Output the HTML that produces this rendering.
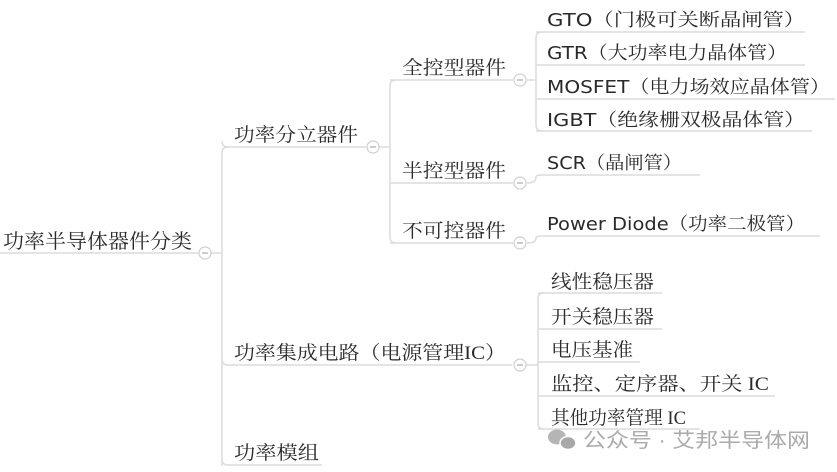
<!DOCTYPE html>
<html><head><meta charset="utf-8"><style>
html,body{margin:0;padding:0;background:#fff;}
svg{display:block}
text{font-family:"Liberation Serif","Noto Serif CJK SC",serif;font-size:19px;fill:#2a2a2a;}
.l{font-family:"DejaVu Sans","Noto Serif CJK SC",sans-serif;font-size:18px;}
</style></head><body>
<svg width="837" height="472" viewBox="0 0 837 472">
<g fill="none" stroke="#dcdcdc" stroke-width="1.5">
<line x1="0" y1="253" x2="199" y2="253"/>
<line x1="211" y1="253" x2="222" y2="253"/>
<path d="M228 147 Q222 147 222 153 L222 466"/>
<path d="M222 141 Q222 147 228 147 L366 147"/>
<path d="M222 359 Q222 365 228 365 L512 365"/>
<path d="M222 459 Q222 465 228 465 L322 465"/>
<line x1="379" y1="147" x2="390" y2="147"/>
<path d="M396 80 Q390 80 390 86 L390 237 Q390 243 396 243"/>
<line x1="390" y1="80" x2="513" y2="80"/>
<line x1="390" y1="183" x2="513" y2="183"/>
<line x1="390" y1="243" x2="513" y2="243"/>
<line x1="527" y1="80" x2="536" y2="80"/>
<path d="M542 32 Q536 32 536 38 L536 125 Q536 131 542 131"/>
<line x1="536" y1="32" x2="805" y2="32"/>
<line x1="536" y1="65" x2="805" y2="65"/>
<line x1="536" y1="99" x2="835" y2="99"/>
<line x1="536" y1="131" x2="812" y2="131"/>
<path d="M527 183 Q536 183 536 177 Q536 175 542 175 L700 175"/>
<path d="M527 243 Q536 243 536 238 Q536 236 542 236 L820 236"/>
<line x1="526" y1="365" x2="538" y2="365"/>
<path d="M544 293 Q538 293 538 299 L538 423 Q538 429 544 429"/>
<line x1="538" y1="293" x2="662" y2="293"/>
<line x1="538" y1="329" x2="662" y2="329"/>
<line x1="538" y1="362" x2="640" y2="362"/>
<line x1="538" y1="396" x2="775" y2="396"/>
<line x1="538" y1="429" x2="700" y2="429"/>
</g>
<g fill="#fff" stroke="#cfcfcf" stroke-width="1.2">
<circle cx="205" cy="253" r="6"/>
<circle cx="373" cy="147" r="6"/>
<circle cx="520" cy="80" r="6"/>
<circle cx="520" cy="183" r="6"/>
<circle cx="520" cy="243" r="6"/>
<circle cx="520" cy="365" r="6"/>
</g>
<g stroke="#999" stroke-width="1">
<line x1="202" y1="253" x2="208" y2="253"/><line x1="370" y1="147" x2="376" y2="147"/>
<line x1="517" y1="80" x2="523" y2="80"/><line x1="517" y1="183" x2="523" y2="183"/>
<line x1="517" y1="243" x2="523" y2="243"/><line x1="517" y1="365" x2="523" y2="365"/>
</g>
<text x="3" y="248" textLength="189" lengthAdjust="spacingAndGlyphs" style="font-size:20px">功率半导体器件分类</text>
<text x="234" y="141" textLength="124" lengthAdjust="spacingAndGlyphs">功率分立器件</text>
<text x="234" y="359" textLength="272" lengthAdjust="spacingAndGlyphs">功率集成电路（电源管理IC）</text>
<text x="234" y="459" textLength="85" lengthAdjust="spacingAndGlyphs">功率模组</text>
<text x="402" y="74" textLength="104" lengthAdjust="spacingAndGlyphs">全控型器件</text>
<text x="402" y="177" textLength="104" lengthAdjust="spacingAndGlyphs">半控型器件</text>
<text x="402" y="237" textLength="104" lengthAdjust="spacingAndGlyphs">不可控器件</text>
<text class="l" x="547" y="26" textLength="258" lengthAdjust="spacingAndGlyphs">GTO（门极可关断晶闸管）</text>
<text class="l" x="547" y="59" textLength="240" lengthAdjust="spacingAndGlyphs">GTR（大功率电力晶体管）</text>
<text class="l" x="547" y="93" textLength="283" lengthAdjust="spacingAndGlyphs">MOSFET（电力场效应晶体管）</text>
<text class="l" x="547" y="126" textLength="258" lengthAdjust="spacingAndGlyphs">IGBT（绝缘栅双极晶体管）</text>
<text class="l" x="547" y="169" textLength="135" lengthAdjust="spacingAndGlyphs">SCR（晶闸管）</text>
<text class="l" x="547" y="230" textLength="258" lengthAdjust="spacingAndGlyphs">Power Diode（功率二极管）</text>
<text x="551" y="288" textLength="103" lengthAdjust="spacingAndGlyphs">线性稳压器</text>
<text x="551" y="323" textLength="103" lengthAdjust="spacingAndGlyphs">开关稳压器</text>
<text x="551" y="356" textLength="82" lengthAdjust="spacingAndGlyphs">电压基准</text>
<text x="551" y="390" textLength="218" lengthAdjust="spacingAndGlyphs">监控、定序器、开关 IC</text>
<text x="551" y="424" textLength="135" lengthAdjust="spacingAndGlyphs">其他功率管理 IC</text>
<g fill="#b5b5b5">
<ellipse cx="557" cy="437" rx="9" ry="7.5"/>
<ellipse cx="568" cy="443" rx="8" ry="6.5" fill="#a8a8a8" stroke="#fff" stroke-width="1.5"/>
</g>
<text x="583" y="447" textLength="227" lengthAdjust="spacingAndGlyphs" style="font-family:'Liberation Sans','Noto Sans CJK SC',sans-serif;font-size:20px;fill:#aaa">公众号 · 艾邦半导体网</text>
</svg>
</body></html>
